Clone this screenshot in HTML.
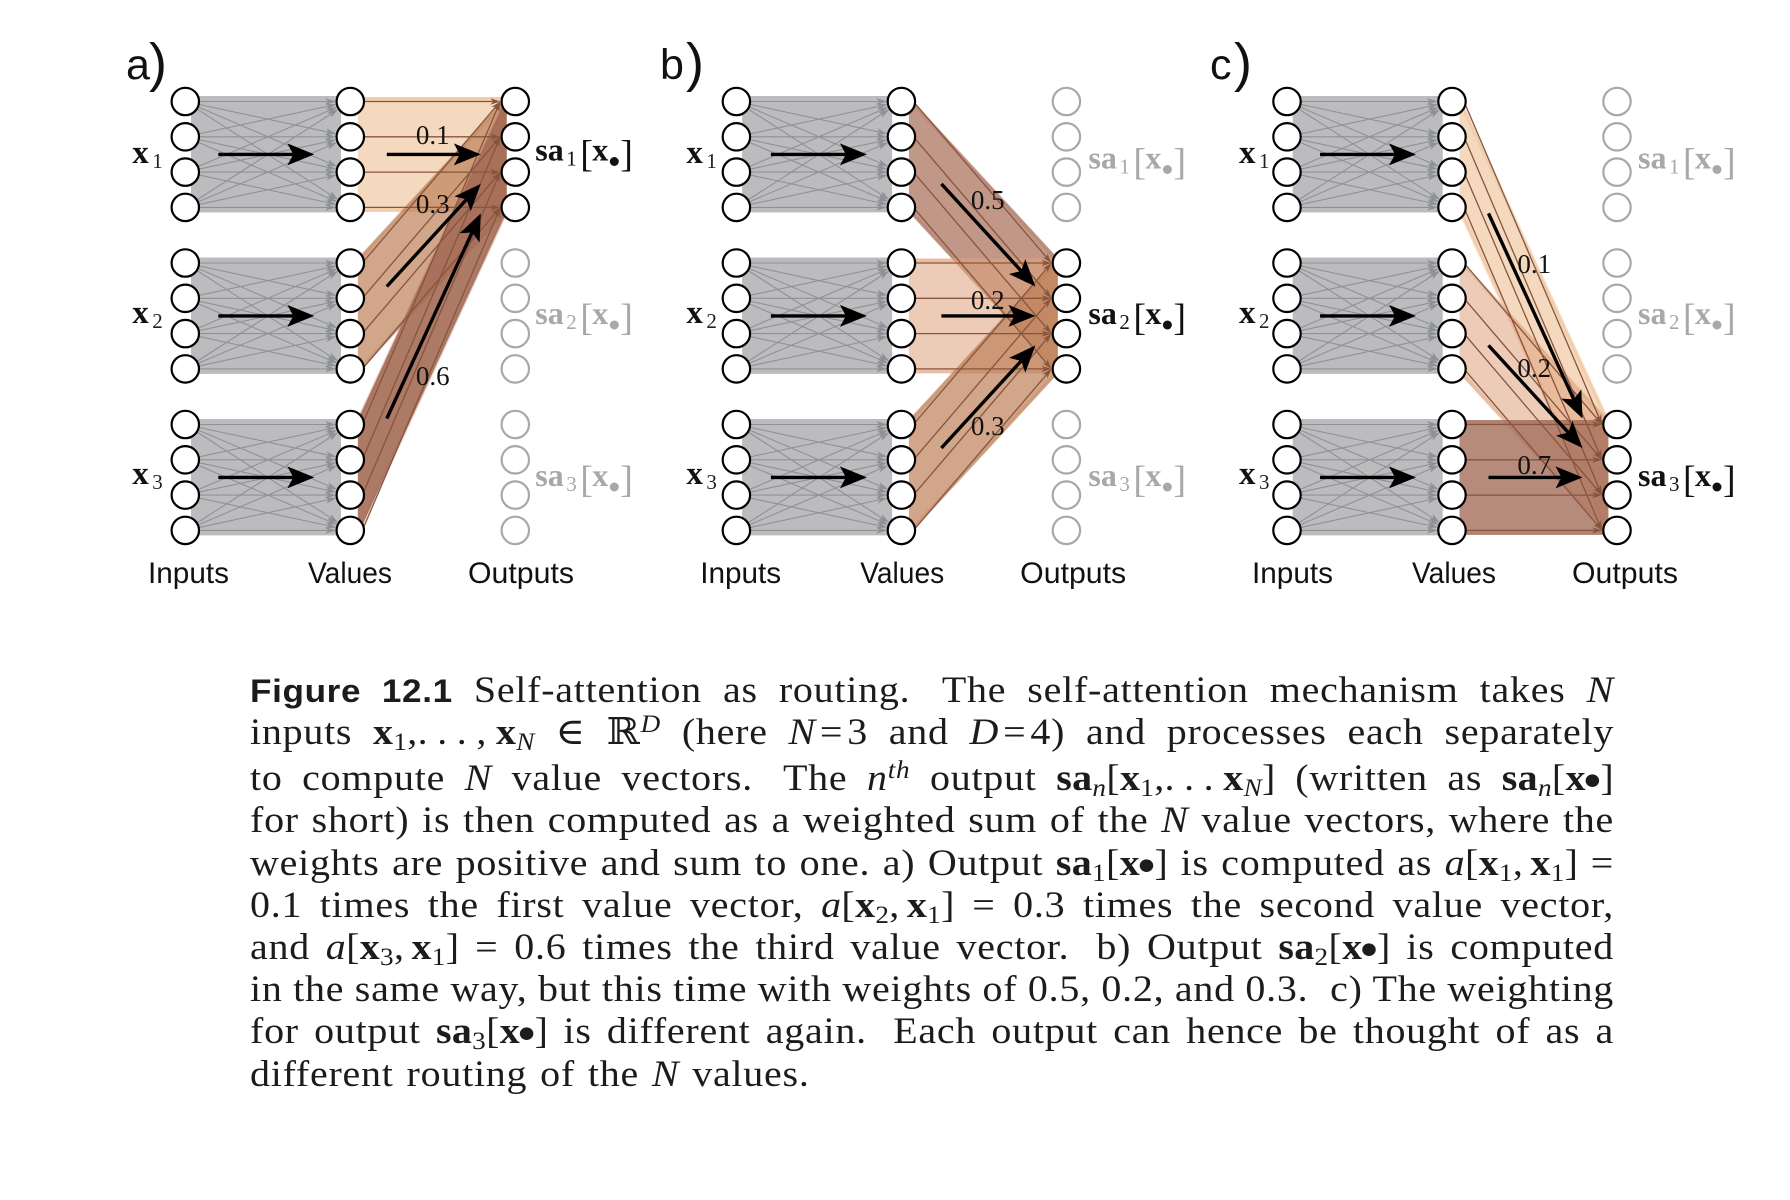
<!DOCTYPE html>
<html lang="en">
<head>
<meta charset="utf-8">
<title>Figure 12.1 Self-attention as routing</title>
<style>
html,body{margin:0;padding:0;background:#fff;}
body{width:1790px;height:1200px;position:relative;overflow:hidden;}
#diagram{position:absolute;left:0;top:0;}
.cap{position:absolute;left:250px;width:1263px;height:42px;line-height:42px;font-family:"Liberation Serif","DejaVu Serif",serif;font-size:37px;letter-spacing:.7px;word-spacing:-2px;color:#1c1c1c;text-align:justify;text-align-last:justify;transform:scaleX(1.08);transform-origin:0 0;}
.cap.last{text-align:left;text-align-last:left;word-spacing:2px;}
.cap b.h{font-family:"Liberation Sans",sans-serif;font-size:32.5px;letter-spacing:.6px;}
.cap sub,.cap sup{font-size:.68em;line-height:0;position:relative;vertical-align:baseline;font-weight:normal;}
.cap sub{top:.22em;}
.cap sup{top:-.48em;}
.cap .dot{font-weight:bold;font-size:1.25em;line-height:0;position:relative;top:.14em;margin-left:-2px;margin-right:-1px;}
.cap .m{letter-spacing:.3px;}
.cap .sp{display:inline-block;width:.28em;}
.cap .c{margin-right:.18em;}
.cap .e{margin:0 .1em;}
.cap .d{letter-spacing:.24em;}
</style>
</head>
<body>
<svg id="diagram" width="1790" height="1200" viewBox="0 0 1790 1200" xmlns="http://www.w3.org/2000/svg"></svg>

<div>
<div class="cap" style="top:670px"><b class="h">Figure 12.1</b> Self-attention as routing.<span class="sp"></span> The self-attention mechanism takes <i>N</i></div>
<div class="cap" style="top:712px">inputs <span class="m"><b>x</b><sub>1</sub>,<span class="d">...,</span><b>x</b><sub><i>N</i></sub></span> ∈ ℝ<sup><i>D</i></sup> (here <i>N</i><span class="e">=</span>3 and <i>D</i><span class="e">=</span>4) and processes each separately</div>
<div class="cap" style="top:758px">to compute <i>N</i> value vectors.<span class="sp"></span> The <i>n</i><sup><i>th</i></sup> output <span class="m"><b>sa</b><sub><i>n</i></sub>[<b>x</b><sub>1</sub>,<span class="d">...</span><b>x</b><sub><i>N</i></sub>]</span> (written as <span class="m"><b>sa</b><sub><i>n</i></sub>[<b>x</b><span class="dot">•</span>]</span></div>
<div class="cap" style="top:800px">for short) is then computed as a weighted sum of the <i>N</i> value vectors, where the</div>
<div class="cap" style="top:843px">weights are positive and sum to one. a) Output <span class="m"><b>sa</b><sub>1</sub>[<b>x</b><span class="dot">•</span>]</span> is computed as <span class="m"><i>a</i>[<b>x</b><sub>1</sub><span class="c">,</span><b>x</b><sub>1</sub>]</span> =</div>
<div class="cap" style="top:885px">0.1 times the first value vector, <span class="m"><i>a</i>[<b>x</b><sub>2</sub><span class="c">,</span><b>x</b><sub>1</sub>]</span> = 0.3 times the second value vector,</div>
<div class="cap" style="top:927px">and <span class="m"><i>a</i>[<b>x</b><sub>3</sub><span class="c">,</span><b>x</b><sub>1</sub>]</span> = 0.6 times the third value vector.<span class="sp"></span> b) Output <span class="m"><b>sa</b><sub>2</sub>[<b>x</b><span class="dot">•</span>]</span> is computed</div>
<div class="cap" style="top:969px">in the same way, but this time with weights of 0.5, 0.2, and 0.3.<span class="sp"></span> c) The weighting</div>
<div class="cap" style="top:1011px">for output <span class="m"><b>sa</b><sub>3</sub>[<b>x</b><span class="dot">•</span>]</span> is different again.<span class="sp"></span> Each output can hence be thought of as a</div>
<div class="cap last" style="top:1054px">different routing of the <i>N</i> values.</div>
</div>

<script>
// ---- chart data ----
const panelLetters = ['a', 'b', 'c'];
const weightsA = [0.1, 0.3, 0.6];
const weightsB = [0.5, 0.2, 0.3];
const weightsC = [0.1, 0.2, 0.7];
const activeOutputs = [0, 1, 2];
const columnTitles = ['Inputs', 'Values', 'Outputs'];
const inputNames = ['1', '2', '3'];
const nodesPerGroup = 4;

// ---- layout and style (not data) ----
const panelWeights = [weightsA, weightsB, weightsC];
const PANEL_X = [185.3, 736.4, 1287];
const LAYER_GAP = 165;
const NODE_R = 13.7;
const LABEL_DX = [82.4, 86.3, 82.2];
const LABEL_BASE = [[144, 213, 385], [209, 309, 435], [273, 377, 474]];
const X_LABEL_DX = [-53, -50, -48];
const SA_LABEL_DX = [20, 22, 21];
const LETTER_X = [126, 660, 1210];
const PAREN_DX = [23, 26, 24];
const TITLE_SHIFT = [-2.3, -1.2, 0];
const VALUE_ARROW_DX = [0, 1.5, 0];
const ROUTE_ARROW_DX = [0, 3.5, 0];
const TITLE_WIDTHS = [81, 84, 106];
const TITLE_DX = [-35, -40, -45];
const BAND_STOPS = [
  [0.1, 235, 179, 125, 0.5],
  [0.2, 222, 162, 124, 0.55],
  [0.3, 189, 128, 89, 0.7],
  [0.5, 172, 116, 95, 0.75],
  [0.6, 164, 108, 85, 0.9],
  [0.7, 165, 110, 91, 0.8]
];
const svg = document.getElementById('diagram');
const NS = 'http://www.w3.org/2000/svg';

// ---- axis functions ----
function xInput(p) { return PANEL_X[p]; }
function xValue(p) { return PANEL_X[p] + LAYER_GAP; }
function xOutput(p) { return PANEL_X[p] + 2 * LAYER_GAP; }
function nodeY(g, i) { return 101.5 + g * 161.5 + i * 35.3; }
function groupMid(g) { return (nodeY(g, 0) + nodeY(g, nodesPerGroup - 1)) / 2; }
function bandFill(w) {
  let a = BAND_STOPS[0], b = BAND_STOPS[BAND_STOPS.length - 1];
  if (w <= a[0]) b = a;
  else if (w >= b[0]) a = b;
  else for (let k = 0; k < BAND_STOPS.length - 1; k++) {
    if (w >= BAND_STOPS[k][0] && w <= BAND_STOPS[k + 1][0]) { a = BAND_STOPS[k]; b = BAND_STOPS[k + 1]; break; }
  }
  const t = a === b ? 0 : (w - a[0]) / (b[0] - a[0]);
  const m = function (k) { return a[k] + (b[k] - a[k]) * t; };
  return { rgb: 'rgb(' + Math.round(m(1)) + ',' + Math.round(m(2)) + ',' + Math.round(m(3)) + ')', alpha: m(4) };
}

function make(tag, parent) {
  const el = document.createElementNS(NS, tag);
  parent.appendChild(el);
  return el;
}
function setAll(el, attrs) {
  for (const k in attrs) el.setAttribute(k, attrs[k]);
  return el;
}
function drawText(parent, name, str, x, y, size, fill, extra) {
  const el = make('text', parent);
  
  
  setAll(el, { x: x, y: y, 'font-size': size, fill: fill, 'font-family': '"Liberation Serif", serif' });
  if (extra) setAll(el, extra);
  el.textContent = str;
  return el;
}
function drawArrowLine(parent, name, x1, y1, x2, y2, color, width, headLen, headHalf, notch) {
  const g = make('g', parent);
  
  
  const len = Math.hypot(x2 - x1, y2 - y1), ux = (x2 - x1) / len, uy = (y2 - y1) / len;
  const bx = x2 - ux * (headLen - notch), by = y2 - uy * (headLen - notch);
  const shaft = make('line', g);
  setAll(shaft, { x1: x1, y1: y1, x2: bx, y2: by, stroke: color, 'stroke-width': width });
  const hx = x2 - ux * headLen, hy = y2 - uy * headLen;
  const pts = [[x2, y2], [hx - uy * headHalf, hy + ux * headHalf], [bx, by], [hx + uy * headHalf, hy - ux * headHalf]];
  const head = make('polygon', g);
  setAll(head, { points: pts.map(function (q) { return q[0].toFixed(1) + ',' + q[1].toFixed(1); }).join(' '), fill: color });
  return g;
}
function drawNode(parent, name, x, y, stroke) {
  const c = make('circle', parent);
  
  
  setAll(c, { cx: x, cy: y, r: NODE_R, fill: '#fff', stroke: stroke, 'stroke-width': 2.2 });
}
function drawXLabel(parent, x, y, n) {
  const g = make('g', parent);
  
  
  drawText(g, 'input-symbol', 'x', x, y, 33, '#111', { 'font-weight': 'bold' });
  drawText(g, 'input-subscript', n, x + 20, y + 5, 21, '#222');
}
function drawSaLabel(parent, x, y, n, color) {
  const g = make('g', parent);
  
  
  drawText(g, 'output-symbol', 'sa', x, y, 32, color, { 'font-weight': 'bold' });
  drawText(g, 'output-subscript', n, x + 31, y + 5, 21, color);
  drawText(g, 'output-open-bracket', '[', x + 45, y + 6, 38, color);
  drawText(g, 'output-x', 'x', x + 57, y, 32, color, { 'font-weight': 'bold' });
  const dot = make('circle', g);
  
  
  setAll(dot, { cx: x + 79, cy: y + 1, r: 4.5, fill: color });
  drawText(g, 'output-close-bracket', ']', x + 85, y + 6, 38, color);
}

function drawPanel(p) {
  const root = make('g', svg);
  
  
  const xi = xInput(p), xv = xValue(p), xo = xOutput(p);
  const weights = panelWeights[p], target = activeOutputs[p];

  // panel letter
  drawText(root, 'panel-letter', panelLetters[p], LETTER_X[p], 79, 43, '#111', { 'font-family': '"Liberation Sans", sans-serif' });
  drawText(root, 'panel-paren', ')', LETTER_X[p] + PAREN_DX[p], 81, 54, '#111', { 'font-family': '"Liberation Sans", sans-serif' });

  // grey input-to-value bands
  for (let g = 0; g < 3; g++) {
    const rect = make('rect', root);
    
    
    setAll(rect, { x: xi + 5.7, y: nodeY(g, 0) - 5.5, width: LAYER_GAP - 15, height: nodeY(g, 3) - nodeY(g, 0) + 10.5, fill: '#bcbcbe' });
    for (let i = 0; i < nodesPerGroup; i++) {
      for (let j = 0; j < nodesPerGroup; j++) {
        const y1 = nodeY(g, i), y2 = nodeY(g, j);
        const len = Math.hypot(LAYER_GAP, y2 - y1);
        drawArrowLine(root, 'value-network-edge', xi, y1, xv - (NODE_R + .5) * LAYER_GAP / len, y2 - (NODE_R + .5) * (y2 - y1) / len, '#8e9296', 1.1, 11, 3.4, 3);
      }
    }
  }

  // brown weighted bands
  const left = xv + 7.5, right = xo - 8.6;
  for (let g = 0; g < 3; g++) {
    const f = bandFill(weights[g]);
    const t0 = nodeY(target, 0) - 4.5, t1 = nodeY(target, 3) + 4.5;
    const s0 = nodeY(g, 0) - 4.5, s1 = nodeY(g, 3) + 4.5;
    const band = make('polygon', root);
    
    
    setAll(band, { points: left + ',' + s0 + ' ' + right + ',' + t0 + ' ' + right + ',' + t1 + ' ' + left + ',' + s1, fill: f.rgb, 'fill-opacity': f.alpha });
    [[s0 + 2, t0 + 2], [s1 - 2, t1 - 2]].forEach(function (e) {
      const edge = make('line', root);
      
      
      setAll(edge, { x1: left, y1: e[0], x2: right, y2: e[1], stroke: f.rgb, 'stroke-width': 4, 'stroke-opacity': .3 });
    });
  }
  for (let g = 0; g < 3; g++) {
    for (let i = 0; i < nodesPerGroup; i++) {
      const y1 = nodeY(g, i), y2 = nodeY(target, i);
      const sx = xv + 12, ex = xo - 15;
      drawArrowLine(root, 'attention-edge', sx, y1, ex, y2, 'rgb(135,85,62)', 1.3, 10, 3.2, 3);
    }
  }

  // nodes
  for (let g = 0; g < 3; g++) {
    for (let i = 0; i < nodesPerGroup; i++) {
      drawNode(root, 'input-node', xi, nodeY(g, i), '#000');
      drawNode(root, 'value-node', xv, nodeY(g, i), '#000');
      drawNode(root, 'output-node', xo, nodeY(g, i), g === target ? '#000' : '#a8a8a8');
    }
  }

  // black summary arrows
  for (let g = 0; g < 3; g++) {
    const y = groupMid(g);
    drawArrowLine(root, 'value-arrow', xi + 33 + VALUE_ARROW_DX[p], y, xi + 129 + VALUE_ARROW_DX[p], y, '#000', 3.4, 27, 11, 6);
    const midX = xv + 83.5 + ROUTE_ARROW_DX[p], midY = (y + groupMid(target)) / 2, half = (groupMid(target) - y) / 148 * 47;
    drawArrowLine(root, 'routing-arrow', midX - 47, midY - half, midX + 47, midY + half, '#000', 3.4, 27, 11, 6);
    drawText(root, 'weight-label', weights[g].toFixed(1), xv + LABEL_DX[p], LABEL_BASE[p][g], 27, '#111', { 'text-anchor': 'middle' });
  }

  // text labels
  for (let g = 0; g < 3; g++) {
    drawXLabel(root, xi + X_LABEL_DX[p], g === 0 ? 163 : groupMid(g) + 7 + (g === 1 ? 0 : -.5), inputNames[g]);
    const saY = g === 0 ? (p === 0 ? 160.5 : 168.5) : (g === 1 ? 324 : 486);
    drawSaLabel(root, xo + SA_LABEL_DX[p], saY, inputNames[g], g === target ? '#111' : '#a8a8aa');
  }
  const positions = [xi, xv, xo];
  for (let t = 0; t < columnTitles.length; t++) {
    const title = drawText(root, 'column-title', columnTitles[t], positions[t] + TITLE_DX[t] + TITLE_SHIFT[p], 583, 30, '#111', { 'font-family': '"Liberation Sans", sans-serif' });
    title.setAttribute('textLength', TITLE_WIDTHS[t]);
    title.setAttribute('lengthAdjust', 'spacingAndGlyphs');
  }
}

for (let p = 0; p < panelLetters.length; p++) drawPanel(p);
</script>
</body>
</html>
